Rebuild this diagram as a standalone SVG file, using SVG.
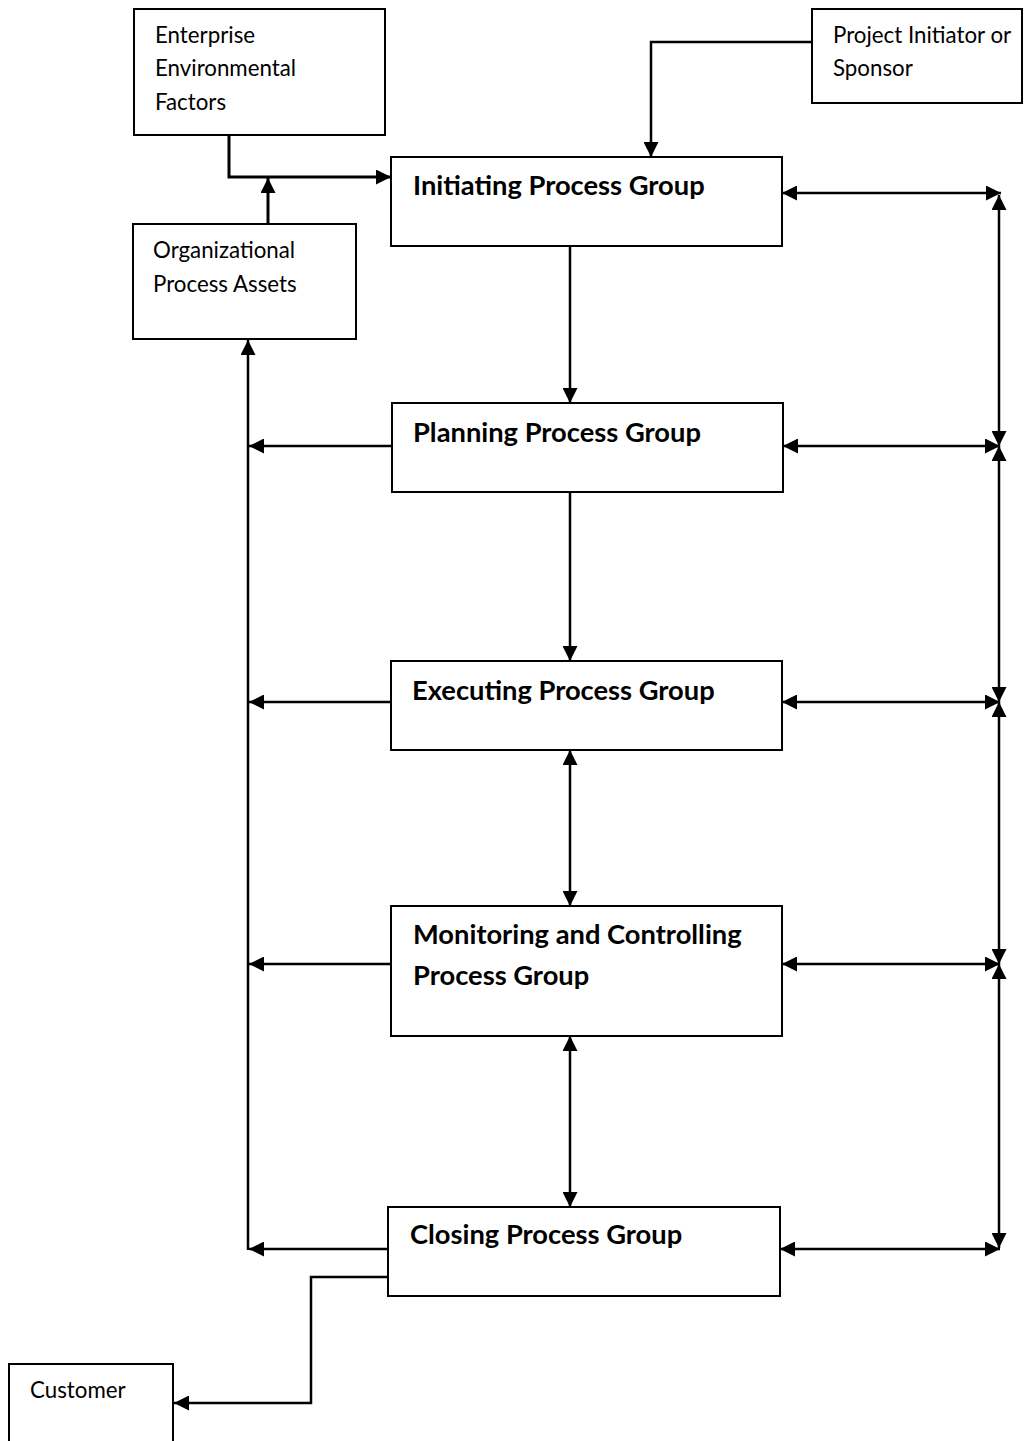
<svg xmlns="http://www.w3.org/2000/svg" width="1024" height="1441" viewBox="0 0 1024 1441">
<style>
.box{fill:#fff;stroke:#000;stroke-width:2}
.t{font-family:Lato,"Open Sans","Liberation Sans",sans-serif;font-size:22.3px;fill:#000}
.b{font-family:Lato,"Open Sans","Liberation Sans",sans-serif;font-size:27.3px;font-weight:bold;fill:#000}
.c{fill:none;stroke:#000;stroke-width:2.5}
.e{marker-end:url(#ah)}
.d{marker-start:url(#ah);marker-end:url(#ah)}
</style>
<defs>
<marker id="ah" markerUnits="userSpaceOnUse" markerWidth="15" markerHeight="15" refX="15" refY="7.5" orient="auto-start-reverse" viewBox="0 0 15 15">
<path d="M0,0 L15,7.5 L0,15 z" fill="#000"/>
</marker>
</defs>
<rect width="1024" height="1441" fill="#fff"/>
<g id="connectors">
<path class="c e" d="M229,136 V177 H391" style="stroke-width:3"/>
<path class="c e" d="M268,224 V178" style="stroke-width:3"/>
<path class="c e" d="M812,42 H651 V157"/>
<path class="c e" d="M570,247 V403"/>
<path class="c e" d="M570,492 V661"/>
<path class="c d" d="M570,750 V906"/>
<path class="c d" d="M570,1036 V1207"/>
<path class="c d" d="M782,193 H1001"/>
<path class="c d" d="M783,446 H1000"/>
<path class="c d" d="M782,702 H1000"/>
<path class="c d" d="M782,964 H1000"/>
<path class="c d" d="M780,1249 H1000"/>
<path class="c d" d="M999,195 V446"/>
<path class="c d" d="M999,446 V702"/>
<path class="c d" d="M999,702 V964"/>
<path class="c d" d="M999,964 V1248"/>
<path class="c e" d="M392,446 H249"/>
<path class="c e" d="M391,702 H249"/>
<path class="c e" d="M391,964 H249"/>
<path class="c e" d="M388,1249 H249"/>
<path class="c e" d="M248,1250 V340"/>
<path class="c e" d="M388,1277 H311 V1403 H174"/>
</g>
<g id="enterprise">
<rect class="box" x="134" y="9" width="251" height="126"/>
<text class="t" x="155" y="43">Enterprise</text>
<text class="t" x="155" y="76">Environmental</text>
<text class="t" x="155" y="110">Factors</text>
</g>
<g id="opa">
<rect class="box" x="133" y="224" width="223" height="115"/>
<text class="t" x="153" y="258">Organizational</text>
<text class="t" x="153" y="292">Process Assets</text>
</g>
<g id="sponsor">
<rect class="box" x="812" y="9" width="210" height="94"/>
<text class="t" x="833" y="43">Project Initiator or</text>
<text class="t" x="833" y="76">Sponsor</text>
</g>
<g id="initiating">
<rect class="box" x="391" y="157" width="391" height="89"/>
<text class="b" x="413" y="195">Initiating Process Group</text>
</g>
<g id="planning">
<rect class="box" x="392" y="403" width="391" height="89"/>
<text class="b" x="413" y="442">Planning Process Group</text>
</g>
<g id="executing">
<rect class="box" x="391" y="661" width="391" height="89"/>
<text class="b" x="412" y="700">Executing Process Group</text>
</g>
<g id="monitoring">
<rect class="box" x="391" y="906" width="391" height="130"/>
<text class="b" x="413" y="944">Monitoring and Controlling</text>
<text class="b" x="413" y="985">Process Group</text>
</g>
<g id="closing">
<rect class="box" x="388" y="1207" width="392" height="89"/>
<text class="b" x="410" y="1244">Closing Process Group</text>
</g>
<g id="customer">
<rect class="box" x="9" y="1364" width="164" height="90"/>
<text class="t" x="30" y="1398">Customer</text>
</g>
</svg>
